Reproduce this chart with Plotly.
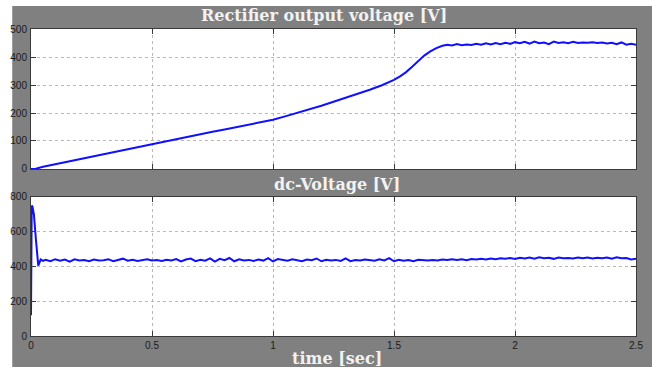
import plotly.graph_objects as go

# ---------------- data ----------------
t_rect = [0, 0.02, 0.05, 0.1, 0.15, 0.2, 0.25, 0.3, 0.35, 0.4, 0.45, 0.5, 0.55, 0.6, 0.65, 0.7,
          0.75, 0.8, 0.85, 0.9, 0.95, 1.0, 1.05, 1.1, 1.15, 1.2, 1.25, 1.3, 1.35, 1.4, 1.45, 1.5,
          1.525, 1.55, 1.575, 1.6, 1.625, 1.65, 1.675, 1.7,
          1.72, 1.74, 1.76, 1.78, 1.80, 1.82, 1.84, 1.86, 1.88, 1.90,
          1.92, 1.94, 1.96, 1.98, 2.00, 2.02, 2.04, 2.06, 2.08, 2.10,
          2.12, 2.14, 2.16, 2.18, 2.20, 2.22, 2.24, 2.26, 2.28, 2.30,
          2.32, 2.34, 2.36, 2.38, 2.40, 2.42, 2.44, 2.46, 2.48, 2.50]
v_rect = [0, 1, 8, 17, 26, 35, 45, 54, 63, 72, 81, 90, 98, 107, 115, 124,
          133, 141, 150, 159, 167, 176, 188, 200, 212, 226, 240, 254, 268, 283, 299, 318,
          331, 346, 365, 385, 405, 420, 432, 440,
          444, 441, 446, 442, 445, 443, 447, 444, 449, 445,
          450, 446, 451, 447, 453, 449, 454, 448, 455, 449,
          452, 446, 455, 450, 453, 449, 454, 450, 452, 451,
          453, 450, 452, 448, 451, 446, 452, 444, 447, 444]

t_dc_start = [0, 0.001, 0.003, 0.006, 0.012, 0.02, 0.03, 0.04, 0.05]
v_dc_start = [120, 600, 750, 745, 700, 560, 405, 440, 432]
t_dc_tail = [round(0.06 + 0.02 * i, 2) for i in range(123)]
v_dc_tail = [438, 430, 442, 433, 440, 428, 441, 435, 437, 431,
             440, 434, 436, 442, 430, 437, 445, 433, 438, 432,
             436, 441, 434, 437, 432, 439, 435, 443, 429, 440,
             446, 431, 439, 433, 447, 428, 444, 436, 449, 430,
             441, 435, 438, 432, 440, 434, 448, 429, 443, 436,
             433, 441, 437, 431, 440, 436, 446, 430, 439, 434,
             438, 432, 447, 431, 437, 434, 440, 436, 433, 441,
             435, 448, 430, 438, 433, 437, 431, 439, 436, 434,
             438, 435, 440, 437, 442, 438, 441, 436, 443, 440,
             444, 441, 446, 442, 447, 445, 449, 443, 450, 446,
             451, 445, 453, 447, 450, 444, 452, 448, 449, 446,
             451, 447, 452, 446, 450, 448, 451, 445, 453, 447,
             449, 441, 444]
t_dc = t_dc_start + t_dc_tail
v_dc = v_dc_start + v_dc_tail

x_ticks = [0, 0.5, 1, 1.5, 2, 2.5]
x_tick_text = ["0", "0.5", "1", "1.5", "2", "2.5"]
y1_ticks = [0, 100, 200, 300, 400, 500]
y2_ticks = [0, 200, 400, 600, 800]

titles = ["Rectifier output voltage [V]", "dc-Voltage [V]", "time [sec]"]

# ---------------- figure ----------------
GRAY = "#808080"
fig = go.Figure()
fig.add_trace(go.Scatter(x=t_rect, y=v_rect, mode="lines",
                         line=dict(color="#1010ff", width=2), xaxis="x", yaxis="y"))
fig.add_trace(go.Scatter(x=t_dc, y=v_dc, mode="lines",
                         line=dict(color="#1010ff", width=2), xaxis="x2", yaxis="y2"))

tickfont = dict(family="Liberation Sans Narrow, Liberation Sans, Arial, sans-serif", size=10, color="#1a1a1a")
common_axis = dict(showline=True, linecolor="#3a3a3a", linewidth=1, mirror="ticks",
                   ticks="inside", ticklen=5, tickcolor="#3a3a3a",
                   showgrid=True, gridcolor="#b8b8b8", griddash="dot", gridwidth=1,
                   zeroline=False, tickfont=tickfont)

fig.update_layout(
    width=652, height=367,
    margin=dict(l=31, r=9, t=29, b=31),
    paper_bgcolor="white", plot_bgcolor="white",
    showlegend=False,
    xaxis=dict(domain=[0, 1], range=[0, 2.5], anchor="y", tickvals=x_ticks,
               showticklabels=False, **common_axis),
    yaxis=dict(domain=[0.544, 1], range=[0, 500], anchor="x", tickvals=y1_ticks, ticklabelstandoff=1, **common_axis),
    xaxis2=dict(domain=[0, 1], range=[0, 2.5], anchor="y2", tickvals=x_ticks, ticktext=x_tick_text, ticklabelstandoff=0, **common_axis),
    yaxis2=dict(domain=[0, 0.4528], range=[0, 800], anchor="x2", tickvals=y2_ticks, ticklabelstandoff=1, **common_axis),
    shapes=[
        dict(type="rect", xref="paper", yref="paper", x0=-0.031, x1=1.03, y0=-0.12, y1=1.0749,
             fillcolor=GRAY, line=dict(width=0), layer="below"),
        dict(type="rect", xref="x domain", yref="y domain", x0=0, x1=1, y0=0, y1=1,
             fillcolor="white", line=dict(width=0), layer="below"),
        dict(type="rect", xref="x2 domain", yref="y2 domain", x0=0, x1=1, y0=0, y1=1,
             fillcolor="white", line=dict(width=0), layer="below"),
    ],
)

title_font = dict(family="DejaVu Serif, Liberation Serif, serif", size=16, color="#f2f2f2")
for text, x, y in [(titles[0], 0.484, 1.0456), (titles[1], 0.505, 0.495), (titles[2], 0.505, -0.0717)]:
    fig.add_annotation(text="<b>" + text + "</b>", x=x, y=y, xref="paper", yref="paper",
                       showarrow=False, font=title_font, xanchor="center", yanchor="middle")

fig.write_html("out.html")
